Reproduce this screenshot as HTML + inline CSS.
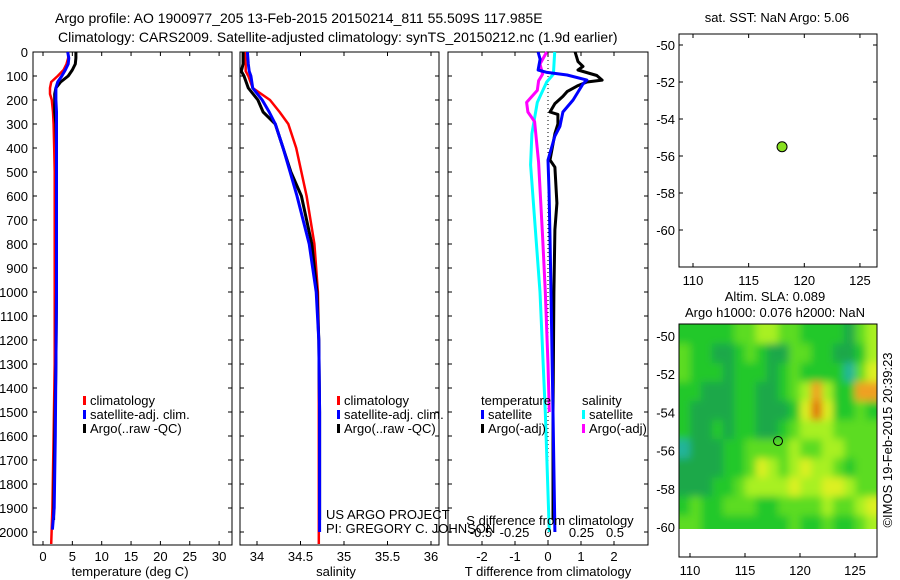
<!DOCTYPE html>
<html><head><meta charset="utf-8">
<style>
html,body{margin:0;padding:0;background:#fff;}
svg{display:block;font-family:"Liberation Sans",sans-serif;font-size:13px;}
</style></head>
<body>
<svg id="c" width="900" height="580" viewBox="0 0 900 580" xmlns="http://www.w3.org/2000/svg">
<defs>
<filter id="blur" x="0" y="0" width="100%" height="100%"><feGaussianBlur stdDeviation="4" edgeMode="duplicate"/></filter>
<clipPath id="slaclip"><rect x="679" y="324" width="198" height="205"/></clipPath>
</defs>
<text x="55" y="23" text-anchor="start" font-size="14">Argo profile: AO 1900977_205 13-Feb-2015 20150214_811 55.509S 117.985E</text>
<text x="58" y="42" text-anchor="start" font-size="14">Climatology: CARS2009. Satellite-adjusted climatology: synTS_20150212.nc (1.9d earlier)</text>
<g id="g"></g>
</svg>
<script>
// ---- data ----
const depthTicks=[0,100,200,300,400,500,600,700,800,900,1000,1100,1200,1300,1400,1500,1600,1700,1800,1900,2000];
const tempTicks=[0,5,10,15,20,25,30];
const salTicks=[34,34.5,35,35.5,36];
const tdTicks=[-2,-1,0,1,2];
const sdTicks=[-0.5,-0.25,0,0.25,0.5];
const sdTickLabels=["-0.5","-0.25","0","0.25","0.5"];
const latTicks=[-50,-52,-54,-56,-58,-60];
const lonTicks=[110,115,120,125];

const tClimDepth=[0,25,50,75,100,125,150,175,200,250,300,400,500,700,1000,1300,1600,1900,2050];
const tClim=[4.3,4.3,4.0,3.5,2.5,1.4,1.2,1.2,1.5,1.7,1.8,1.9,2.0,2.0,2.0,2.0,1.8,1.6,1.4];
const tSatDepth=[0,25,50,75,100,125,150,175,200,250,300,400,500,700,1000,1300,1600,1900,1990];
const tSat=[4.2,4.4,4.3,3.8,3.2,2.5,2.2,2.2,2.2,2.3,2.3,2.3,2.3,2.3,2.3,2.2,2.1,1.9,1.6];
const tArgoDepth=[0,25,50,75,100,125,150,175,200,250,300,400,500,700,1000,1300,1600,1950];
const tArgo=[5.6,5.6,5.5,5.0,4.3,3.0,2.2,2.0,2.0,2.0,2.2,2.3,2.3,2.3,2.3,2.2,2.0,1.8];

const sArgoDepth=[0,50,80,100,150,200,250,300,400,500,600,800,1000,1200,1500,1950];
const sArgo=[33.84,33.84,33.82,33.85,33.90,34.01,34.07,34.21,34.30,34.39,34.51,34.63,34.69,34.71,34.72,34.72];
const sSatDepth=[0,50,80,100,150,200,250,300,400,500,600,800,1000,1200,1500,1800,2000];
const sSat=[33.89,33.90,33.91,33.93,33.95,34.06,34.14,34.21,34.30,34.38,34.46,34.60,34.68,34.71,34.72,34.72,34.72];
const sClimDepth=[0,50,80,100,150,200,250,300,400,500,600,800,1000,1200,1500,1800,2050];
const sClim=[33.86,33.87,33.87,33.90,33.95,34.15,34.26,34.36,34.45,34.51,34.57,34.66,34.70,34.71,34.71,34.71,34.71];

const dtSatDepth=[0,30,75,85,96,117,133,200,250,310,350,450,575,770,1000,1500,2000];
const dtSat=[-0.30,-0.24,-0.30,-0.03,0.58,1.18,1.06,0.76,0.45,0.36,0.21,0,0.03,0.06,0.09,0.15,0.21];
const dtArgoDepth=[0,40,60,75,98,117,125,140,165,185,215,250,260,300,340,450,480,630,740,1000,1500,1950];
const dtArgo=[0.82,0.91,1.06,0.91,1.48,1.64,1.18,0.91,0.58,0.45,0.21,0.06,0.30,0.30,0.21,0.06,0.21,0.27,0.21,0.18,0.15,0.15];
const dsSatDepth=[0,92,125,210,340,470,770,1000,1500,2000];
const dsSat=[0.05,0.04,-0.01,-0.08,-0.12,-0.13,-0.09,-0.06,-0.02,0.01];
const dsArgoDepth=[0,50,92,120,160,210,250,290,460,770,1000,1300,1500];
const dsArgo=[-0.01,-0.06,-0.04,-0.07,-0.08,-0.16,-0.15,-0.10,-0.07,-0.04,-0.02,0,0.01];

const argoLon=118.0, argoLat=-55.5;
const slaLon0=109, slaLat0=-49.4, slaLatEnd=-60.1;
// SLA level grid (rows 1 deg lat from north, cols 1 deg lon from 109E)
const slaGrid=[
[2,2,2,2,2,3,3,4,4,3,3,2,2,2,2,1,3,4],
[3,2,2,1,1,2,3,2,1,1,3,3,2,2,1,1,2,4],
[3,2,2,2,1,2,2,2,1,2,3,2,2,2,2,0,3,5],
[2,2,1,1,1,2,2,1,1,2,3,4,6,4,2,2,6,6],
[2,1,1,1,1,2,2,1,1,1,2,5,7,5,2,2,3,2],
[2,1,1,2,1,2,2,1,1,2,3,4,4,4,3,3,3,3],
[0,1,1,1,2,2,3,3,3,3,4,3,3,4,4,3,3,3],
[1,1,1,1,2,2,3,5,4,3,4,5,4,4,3,2,3,3],
[1,1,1,2,2,3,4,4,4,4,5,4,4,5,5,4,3,3],
[2,3,2,2,3,3,3,2,2,3,3,3,3,4,3,3,4,5],
[3,3,2,2,2,2,2,2,2,2,3,2,2,3,2,2,3,4]];
const slaColors=["#20b49a","#1ea848","#22c82a","#5cdc22","#a8f022","#dcf020","#f0a020","#e07010"];

// ---- helpers ----
const NS="http://www.w3.org/2000/svg";
const G=document.getElementById('g');
function mk(tag,attrs,parent){const e=document.createElementNS(NS,tag);for(const k in attrs)e.setAttribute(k,attrs[k]);(parent||G).appendChild(e);return e;}
function txt(x,y,s,anchor,parent){const e=mk('text',{x:x,y:y,'text-anchor':anchor||'middle'},parent);e.textContent=s;return e;}

const Y0=52,Y1=545;
const yD=d=>Y0+d*0.24;
const xT=t=>43+t*5.87;
const xS=s=>257+(s-34)*87;
const xDT=t=>548+t*33;
const xDS=s=>548+s*134;

function frame(x0,x1,name){
  const r=mk('rect',{x:x0,y:Y0,width:x1-x0,height:Y1-Y0,fill:'none',stroke:'#000','stroke-width':1});
  
  
  depthTicks.forEach(d=>{mk('line',{x1:x0,x2:x0+4,y1:yD(d),y2:yD(d),stroke:'#000'});mk('line',{x1:x1,x2:x1-4,y1:yD(d),y2:yD(d),stroke:'#000'});});
}
function line(xs,ds,xf,color,w,name){
  const pts=xs.map((v,i)=>xf(v).toFixed(1)+','+yD(ds[i]).toFixed(1)).join(' ');
  const p=mk('polyline',{points:pts,fill:'none',stroke:color,'stroke-width':w,'stroke-linejoin':'round'});
  
  
}

// y labels
depthTicks.forEach(d=>{const t=txt(28,yD(d)+5,String(d),'end');

});

// Panel 1: temperature
frame(33,232,'temperature-panel');
tempTicks.forEach(t=>{mk('line',{x1:xT(t),x2:xT(t),y1:Y1,y2:Y1-4,stroke:'#000'});mk('line',{x1:xT(t),x2:xT(t),y1:Y0,y2:Y0+4,stroke:'#000'});
const l=txt(xT(t),561,String(t));

});
const tx=txt(130,576,'temperature (deg C)');


line(tClim,tClimDepth,xT,'#f00',2.5,'temp-climatology-line');
line(tArgo,tArgoDepth,xT,'#000',3,'temp-argo-line');
line(tSat,tSatDepth,xT,'#00f',3,'temp-satellite-line');

// Panel 2: salinity
frame(240,439,'salinity-panel');
salTicks.forEach((s,i)=>{mk('line',{x1:xS(s),x2:xS(s),y1:Y1,y2:Y1-4,stroke:'#000'});mk('line',{x1:xS(s),x2:xS(s),y1:Y0,y2:Y0+4,stroke:'#000'});
const l=txt(xS(s),561,String(s));

});
const sx=txt(336,576,'salinity');


line(sClim,sClimDepth,xS,'#f00',2.5,'sal-climatology-line');
line(sArgo,sArgoDepth,xS,'#000',3,'sal-argo-line');
line(sSat,sSatDepth,xS,'#00f',3,'sal-satellite-line');

// Panel 3: differences
frame(448,648,'difference-panel');
mk('line',{x1:xDT(0),x2:xDT(0),y1:Y0,y2:Y1,stroke:'#000','stroke-dasharray':'1,3'});
tdTicks.forEach(t=>{mk('line',{x1:xDT(t),x2:xDT(t),y1:Y1,y2:Y1-4,stroke:'#000'});mk('line',{x1:xDT(t),x2:xDT(t),y1:Y0,y2:Y0+4,stroke:'#000'});
const l=txt(xDT(t),561,String(t));

});
line(dsSat,dsSatDepth,xDS,'#0ff',3,'sal-diff-satellite-line');
line(dsArgo,dsArgoDepth,xDS,'#f0f',3,'sal-diff-argo-line');
line(dtArgo,dtArgoDepth,xDT,'#000',3,'temp-diff-argo-line');
line(dtSat,dtSatDepth,xDT,'#00f',3,'temp-diff-satellite-line');
sdTicks.forEach((s,i)=>{const l=txt(xDS(s),537,sdTickLabels[i]);

});
const sdt=txt(550,525,'S difference from climatology');


const tdt=txt(548,576,'T difference from climatology');



// legends
function legend(x,y,items,name){
  const g=mk('g',{});
  
  
  items.forEach((it,i)=>{const yy=y+i*14;
    if(it[0])mk('rect',{x:x,y:yy-4,width:3,height:9,fill:it[0]},g);
    txt(x+(it[0]?7:0),yy+5,it[1],'start',g);});
}
legend(83,400,[['#f00','climatology'],['#00f','satellite-adj. clim.'],['#000','Argo(..raw -QC)']],'temperature-legend');
legend(337,400,[['#f00','climatology'],['#00f','satellite-adj. clim.'],['#000','Argo(..raw -QC)']],'salinity-legend');
legend(481,400,[[null,'temperature'],['#00f','satellite'],['#000','Argo(-adj)']],'temp-diff-legend');
legend(582,400,[[null,'salinity'],['#0ff','satellite'],['#f0f','Argo(-adj)']],'sal-diff-legend');
const us=txt(326,519,'US ARGO PROJECT','start');


const pi=txt(326,533,'PI: GREGORY C. JOHNSON','start');



// Maps
function mapFrame(x0,x1,y0,y1,lat0,latPx,lon0,lonPx,name){
  const yL=l=>lat0+(-50-l)*latPx, xL=l=>lon0+(l-110)*lonPx;
  latTicks.forEach(l=>{mk('line',{x1:x0,x2:x0+4,y1:yL(l),y2:yL(l),stroke:'#000'});mk('line',{x1:x1,x2:x1-4,y1:yL(l),y2:yL(l),stroke:'#000'});
    const t=txt(x0-4,yL(l)+5,String(l),'end');
    
    });
  lonTicks.forEach(l=>{mk('line',{x1:xL(l),x2:xL(l),y1:y1,y2:y1-4,stroke:'#000'});mk('line',{x1:xL(l),x2:xL(l),y1:y0,y2:y0+4,stroke:'#000'});
    const t=txt(xL(l),y1+18,String(l));
    
    });
  return {yL,xL};
}
// top map
const m1=mapFrame(679,877,34,267,45,18.5,693,11.13,'sst-map');
const r1=mk('rect',{x:679,y:34,width:198,height:233,fill:'none',stroke:'#000'});


const c1=mk('circle',{cx:m1.xL(argoLon),cy:m1.yL(argoLat),r:5,fill:'#88e020',stroke:'#000','stroke-width':1});


const st=txt(777,22,'sat. SST: NaN Argo: 5.06');



// bottom map
const m2=mapFrame(679,877,324,557,336,19.1,690,11,'sla-map');
const xl2=l=>690+(l-110)*11, yl2=l=>336+(-50-l)*19.1;
const clipG=mk('g',{'clip-path':'url(#slaclip)'});
const hm=mk('g',{filter:'url(#blur)'},clipG);


slaGrid.forEach((row,r)=>row.forEach((v,c)=>{
  const la=slaLat0-r+(r===0?0.6:0), lb=(r===slaGrid.length-1)?slaLatEnd-0.8:slaLat0-r-1;
  const x=xl2(slaLon0+c)-(c===0?8:0), xe=xl2(slaLon0+c+1)+(c===row.length-1?8:0);
  const cell=mk('rect',{x:x,y:yl2(la),width:xe-x+0.5,height:yl2(lb)-yl2(la)+0.5,fill:slaColors[v]},hm);
  
  
}));
const r2=mk('rect',{x:679,y:324,width:198,height:233,fill:'none',stroke:'#000'});


const c2=mk('circle',{cx:xl2(argoLon),cy:yl2(argoLat),r:4.5,fill:'none',stroke:'#000','stroke-width':1});


const t1=txt(775,301,'Altim. SLA: 0.089');


const t2=txt(775,317,'Argo h1000: 0.076 h2000: NaN');


const im=txt(0,0,'©IMOS 19-Feb-2015 20:39:23');
im.setAttribute('transform','translate(892,440) rotate(-90)');


</script>
</body></html>
